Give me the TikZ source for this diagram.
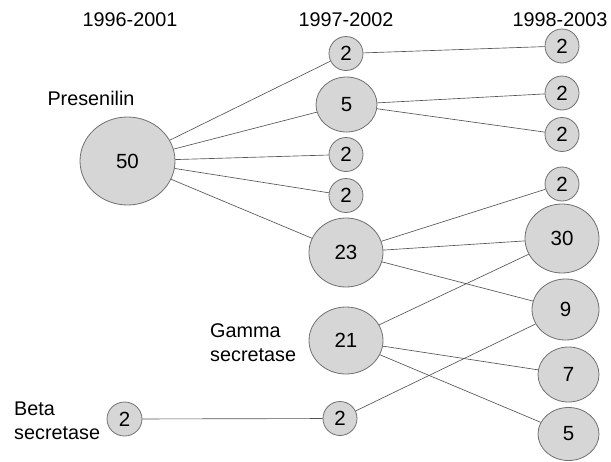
\documentclass[tikz,border=0pt]{standalone}
\usepackage{fontspec}
\setmainfont{Liberation Sans}
\usetikzlibrary{shapes.geometric}
\definecolor{bubfill}{HTML}{D6D6D6}
\definecolor{bubline}{HTML}{707070}
\definecolor{linkline}{HTML}{555555}
\tikzset{
  bub/.style 2 args={ellipse, draw=bubline, fill=bubfill, line width=0.8pt,
    minimum width=#1, minimum height=#2, inner sep=0pt,
    font=\fontsize{20.5}{22}\selectfont},
  small/.style={bub={34pt}{34pt}},
  link/.style={draw=linkline, line width=0.65pt},
  lbl/.style={font=\fontsize{19.8}{24}\selectfont, inner sep=0pt},
}
\begin{document}
\begin{tikzpicture}[x=1pt,y=-1pt]
\useasboundingbox (0,0) rectangle (611,461);

% period headings
\node[lbl] (h1) at (130,20) {1996-2001};
\node[lbl] (h2) at (346,20) {1997-2002};
\node[lbl] (h3) at (560,20) {1998-2003};

% group labels
\node[lbl] (lp) at (91,98) {Presenilin};
\node[lbl, anchor=west, align=left] (lg) at (210,342.5) {Gamma\\secretase};
\node[lbl, anchor=west, align=left] (lb) at (14,421) {Beta\\secretase};

% first period
\node[bub={95pt}{88pt}] (a50) at (127.5,161) {50};
\node[bub={35pt}{34pt}] (ab2) at (124.5,419) {2};

% second period
\node[small] (b1) at (346,53.5) {2};
\node[bub={61pt}{55pt}] (b2) at (346.5,104.5) {5};
\node[small] (b3) at (346,154.5) {2};
\node[small] (b4) at (346,195.5) {2};
\node[bub={74pt}{69pt}] (b5) at (346,252.5) {23};
\node[bub={74pt}{67pt}] (b6) at (346,340.5) {21};
\node[small] (b7) at (340,418.5) {2};

% third period
\node[small] (c1) at (562,46) {2};
\node[small] (c2) at (562,93) {2};
\node[small] (c3) at (562,134.5) {2};
\node[small] (c4) at (562,184) {2};
\node[bub={74pt}{69pt}] (c5) at (562,238.5) {30};
\node[bub={67pt}{61pt}] (c6) at (565.5,309.5) {9};
\node[bub={61pt}{55pt}] (c7) at (568.5,374.5) {7};
\node[bub={61pt}{53pt}] (c8) at (568.5,434) {5};

% links between periods
\path[link] (a50) -- (b1);
\path[link] (a50) -- (b2);
\path[link] (a50) -- (b3);
\path[link] (a50) -- (b4);
\path[link] (a50) -- (b5);
\path[link] (b1) -- (c1);
\path[link] (b2) -- (c2);
\path[link] (b2) -- (c3);
\path[link] (b5) -- (c4);
\path[link] (b5) -- (c5);
\path[link] (b5) -- (c6);
\path[link] (b6) -- (c5);
\path[link] (b6) -- (c7);
\path[link] (b6) -- (c8);
\path[link] (ab2) -- (b7);
\path[link] (b7) -- (c6);
\end{tikzpicture}
\end{document}
